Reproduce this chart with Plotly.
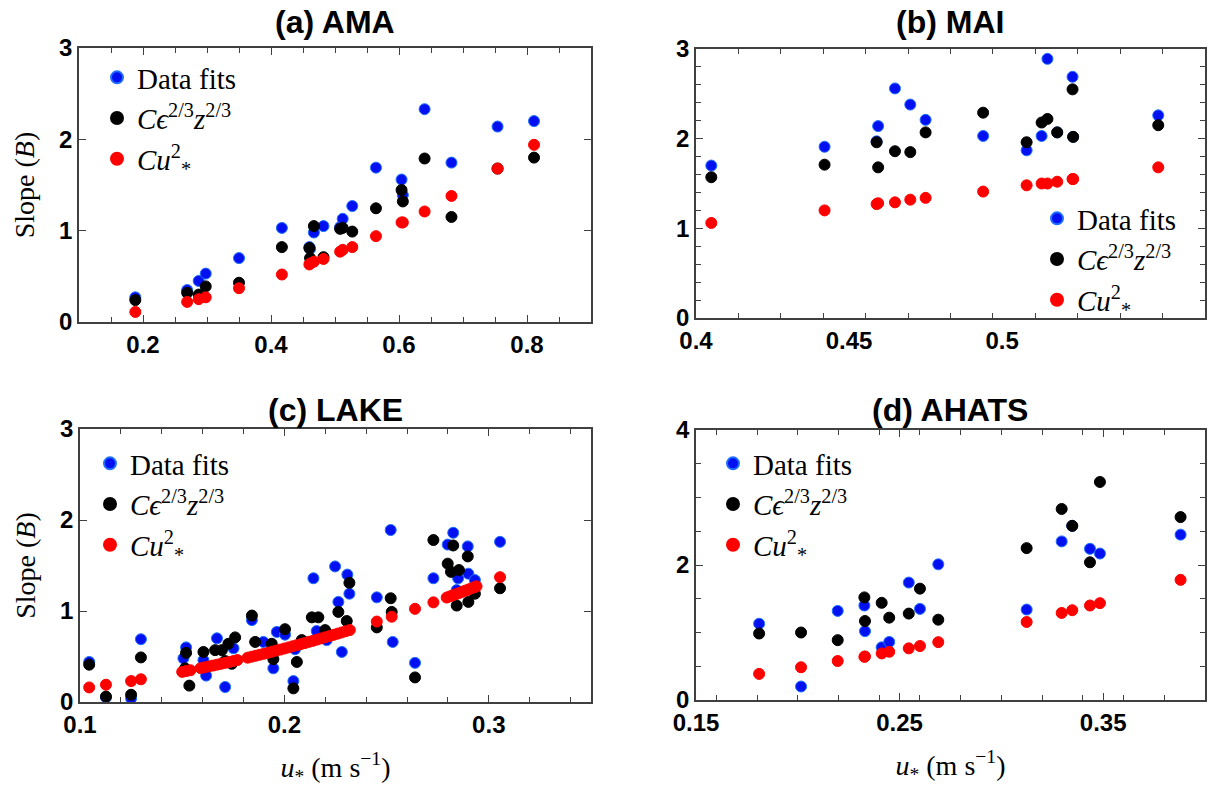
import plotly.graph_objects as go

# ---------------- data ----------------
# (a) AMA
a_u = [0.188, 0.269, 0.287, 0.298, 0.350, 0.417, 0.460, 0.461, 0.467, 0.482,
       0.508, 0.512, 0.527, 0.564, 0.604, 0.606, 0.640, 0.682, 0.754, 0.811]
a_fit = [0.27, 0.35, 0.45, 0.53, 0.70, 1.03, 0.82, 0.80, 0.98, 1.05,
         1.04, 1.13, 1.27, 1.69, 1.56, 1.39, 2.33, 1.745, 2.14, 2.20]
a_eps = [0.24, 0.32, 0.30, 0.39, 0.43, 0.82, 0.81, 0.70, 1.05, 0.71,
         1.02, 1.03, 0.99, 1.245, 1.445, 1.32, 1.79, 1.15, 1.68, 1.80]
a_ustar = [0.11, 0.22, 0.25, 0.27, 0.37, 0.52, 0.63, 0.64, 0.66, 0.69,
           0.77, 0.79, 0.82, 0.94, 1.09, 1.09, 1.21, 1.38, 1.68, 1.94]

# (b) MAI
b_u = [0.405, 0.442, 0.459, 0.4595, 0.465, 0.470, 0.475, 0.4938, 0.508, 0.5129,
       0.5148, 0.518, 0.523, 0.5232, 0.551]
b_fit = [1.70, 1.91, 1.97, 2.14, 2.56, 2.38, 2.21, 2.03, 1.87, 2.03,
         2.89, 2.07, 2.69, 2.02, 2.26]
b_eps = [1.57, 1.71, 1.96, 1.68, 1.86, 1.85, 2.07, 2.29, 1.96, 2.18,
         2.22, 2.07, 2.55, 2.02, 2.15]
b_ustar = [1.06, 1.20, 1.27, 1.28, 1.29, 1.32, 1.34, 1.41, 1.48, 1.50,
           1.50, 1.52, 1.55, 1.55, 1.68]

# (c) LAKE
c_fit_u = [0.1045, 0.1127, 0.1250, 0.1298, 0.1506, 0.1519, 0.1604, 0.1617, 0.1670, 0.1710,
           0.1751, 0.1841, 0.1897, 0.1946, 0.1963, 0.2003, 0.2044, 0.2052, 0.2142, 0.2158,
           0.2207, 0.2248, 0.2264, 0.2281, 0.2308, 0.2318, 0.2452, 0.2520, 0.2530, 0.2639,
           0.2729, 0.2799, 0.2826, 0.2843, 0.2850, 0.2897, 0.2900, 0.2932, 0.3055]
c_fit = [0.44, 0.05, 0.04, 0.69, 0.48, 0.60, 0.46, 0.29, 0.70, 0.165,
         0.59, 0.90, 0.66, 0.37, 0.77, 0.74, 0.23, 0.58, 1.36, 0.78,
         0.68, 1.49, 1.10, 0.55, 1.40, 1.19, 1.15, 1.89, 0.66, 0.43,
         1.36, 1.73, 1.86, 1.23, 1.36, 1.71, 1.41, 1.34, 1.76]
c_eps_u = [0.1045, 0.1127, 0.1250, 0.1298, 0.1514, 0.1519, 0.1535, 0.1604, 0.1661, 0.1694,
           0.1710, 0.1726, 0.1743, 0.1759, 0.1841, 0.1857, 0.1938, 0.1946, 0.2003, 0.2044,
           0.2061, 0.2085, 0.2134, 0.2166, 0.2199, 0.2264, 0.2305, 0.2318, 0.2452, 0.2520,
           0.2525, 0.2639, 0.2729, 0.2799, 0.2815, 0.2826, 0.2843, 0.2854, 0.2897, 0.2900,
           0.2932, 0.3055]
c_eps = [0.41, 0.06, 0.08, 0.49, 0.37, 0.54, 0.18, 0.55, 0.57, 0.57,
         0.45, 0.64, 0.42, 0.71, 0.95, 0.66, 0.64, 0.47, 0.80, 0.15,
         0.44, 0.68, 0.93, 0.93, 0.79, 0.99, 0.89, 1.31, 0.82, 1.14,
         0.99, 0.27, 1.78, 1.52, 1.43, 1.72, 1.06, 1.45, 1.60, 1.10,
         1.19, 1.25]
c_ustar_u = [0.1045, 0.1127, 0.1250, 0.1298, 0.150, 0.152, 0.154, 0.159, 0.161, 0.163,
             0.165, 0.167, 0.169, 0.171, 0.173, 0.175, 0.177, 0.182, 0.184, 0.186,
             0.188, 0.190, 0.192, 0.194, 0.196, 0.198, 0.200, 0.202, 0.204, 0.206,
             0.208, 0.210, 0.212, 0.214, 0.216, 0.218, 0.220, 0.222, 0.224, 0.226,
             0.228, 0.230, 0.232, 0.2452, 0.2525, 0.2639, 0.2729, 0.2794, 0.2810, 0.2825,
             0.2840, 0.2855, 0.2870, 0.2885, 0.2900, 0.2915, 0.2930, 0.2940, 0.3055]
c_ustar = [0.16, 0.19, 0.23, 0.25, 0.331, 0.340, 0.349, 0.372, 0.381, 0.391,
           0.400, 0.410, 0.420, 0.430, 0.440, 0.450, 0.461, 0.487, 0.498, 0.509,
           0.520, 0.531, 0.542, 0.553, 0.565, 0.576, 0.588, 0.600, 0.612, 0.624,
           0.636, 0.648, 0.661, 0.673, 0.686, 0.699, 0.711, 0.724, 0.738, 0.751,
           0.764, 0.778, 0.791, 0.884, 0.937, 1.024, 1.095, 1.148, 1.161, 1.173,
           1.186, 1.198, 1.211, 1.224, 1.236, 1.249, 1.262, 1.271, 1.372]

# (d) AHATS
d_u = [0.181, 0.2016, 0.2196, 0.2327, 0.2330, 0.2412, 0.2449, 0.2545, 0.260, 0.269,
       0.3124, 0.3296, 0.3348, 0.3435, 0.3484, 0.388]
d_fit = [1.13, 0.20, 1.32, 1.40, 1.02, 0.78, 0.86, 1.74, 1.35, 2.01,
         1.34, 2.35, 2.58, 2.24, 2.17, 2.45]
d_eps = [0.985, 1.00, 0.887, 1.52, 1.17, 1.44, 1.22, 1.28, 1.65, 1.19,
         2.25, 2.83, 2.58, 2.04, 3.23, 2.71]
d_ustar = [0.387, 0.485, 0.578, 0.64, 0.645, 0.69, 0.715, 0.765, 0.80, 0.857,
           1.156, 1.29, 1.33, 1.40, 1.435, 1.78]

titles = ["(a) AMA", "(b) MAI", "(c) LAKE", "(d) AHATS"]
series_names = ["Data fits",
                "<i>C\u03f5</i><sup>2/3</sup><i>z</i><sup>2/3</sup>",
                "<i>Cu</i><sup>2</sup><sub>*</sub>"]
colors = ["#0010f0", "#000000", "#ff0000"]
edge = ["#1f6fff", "#000000", "#ff0000"]

W, H = 1217, 791
def px(x):
    return x / W
def py(y):
    return 1 - y / H

# panel pixel boxes (left, right, top, bottom)
boxes = [(79, 591, 48, 322), (696, 1205, 49, 318), (80, 591, 429, 702), (696, 1205, 430, 700)]

fig = go.Figure()

panels = [
    (a_u, a_fit, a_u, a_eps, a_u, a_ustar),
    (b_u, b_fit, b_u, b_eps, b_u, b_ustar),
    (c_fit_u, c_fit, c_eps_u, c_eps, c_ustar_u, c_ustar),
    (d_u, d_fit, d_u, d_eps, d_u, d_ustar),
]
legend_ids = ["legend", "legend2", "legend3", "legend4"]
for i, p in enumerate(panels):
    xa = "x" if i == 0 else f"x{i+1}"
    ya = "y" if i == 0 else f"y{i+1}"
    for k in range(3):
        fig.add_trace(go.Scatter(
            x=p[2 * k], y=p[2 * k + 1], mode="markers", name=series_names[k],
            marker=dict(size=11, color=colors[k], line=dict(width=1, color=edge[k])),
            xaxis=xa, yaxis=ya, legend=legend_ids[i], showlegend=True))

frame = "#404040"
tickfont = dict(family="Liberation Sans", size=24, color="black", weight="bold")
titlefont = dict(family="Liberation Serif", size=28, color="black")

def axis_common():
    return dict(showgrid=False, zeroline=False, showline=True, linecolor=frame, linewidth=1.5,
                mirror="ticks", ticks="inside", tickcolor=frame, ticklen=7, tickwidth=1,
                tickfont=tickfont, automargin=False)

# x axes
xa_cfg = [
    dict(range=[0.1, 0.9], tickvals=[0.2, 0.4, 0.6, 0.8], ticktext=["0.2", "0.4", "0.6", "0.8"],
         minor=dict(ticks="inside", tick0=0, dtick=0.05, ticklen=5, tickcolor=frame)),
    dict(range=[0.4, 0.56627], tickvals=[0.4, 0.45, 0.5], ticktext=["0.4", "0.45", "0.5"], ticklen=0,
         minor=dict(ticks="inside", tick0=0.4, dtick=0.013856, ticklen=5, tickcolor=frame)),
    dict(range=[0.1, 0.35], tickvals=[0.1, 0.2, 0.3], ticktext=["0.1", "0.2", "0.3"],
         minor=dict(ticks="inside", tick0=0, dtick=0.02, ticklen=5, tickcolor=frame)),
    dict(range=[0.15, 0.40], tickvals=[0.15, 0.25, 0.35], ticktext=["0.15", "0.25", "0.35"],
         minor=dict(ticks="inside", tick0=0, dtick=0.02, ticklen=5, tickcolor=frame)),
]
ya_cfg = [
    dict(range=[0, 3], tickvals=[0, 1, 2, 3]),
    dict(range=[0, 3], tickvals=[0, 1, 2, 3],
         minor=dict(ticks="inside", tick0=0, dtick=0.2, ticklen=5, tickcolor=frame)),
    dict(range=[0, 3], tickvals=[0, 1, 2, 3]),
    dict(range=[0, 4], tickvals=[0, 2, 4],
         minor=dict(ticks="inside", tick0=0, dtick=0.5, ticklen=5, tickcolor=frame)),
]

layout = dict(width=W, height=H, margin=dict(l=0, r=0, t=0, b=0, autoexpand=False),
              plot_bgcolor="white", paper_bgcolor="white")
for i, (l, r, t, b) in enumerate(boxes):
    xk = "xaxis" if i == 0 else f"xaxis{i+1}"
    yk = "yaxis" if i == 0 else f"yaxis{i+1}"
    ax = axis_common()
    ax.update(xa_cfg[i])
    ax["domain"] = [px(l), px(r)]
    ax["anchor"] = "y" if i == 0 else f"y{i+1}"
    ay = axis_common()
    ay.update(ya_cfg[i])
    ay["domain"] = [py(b), py(t)]
    ay["anchor"] = "x" if i == 0 else f"x{i+1}"
    if i in (2, 3):
        ax["title"] = dict(text="<i>u</i><sub>*</sub> (m s<sup>\u22121</sup>)", font=titlefont, standoff=21)
    if i in (0, 2):
        ay["title"] = dict(text="Slope (<i>B</i>)", font=titlefont, standoff=16)
    layout[xk] = ax
    layout[yk] = ay

leg_font = dict(family="Liberation Serif", size=29, color="black")
leg_pos = [(97, 52), (1037, 193), (90, 438), (713, 438)]
for i, (lx, ly) in enumerate(leg_pos):
    layout[legend_ids[i]] = dict(x=px(lx), y=py(ly), xanchor="left", yanchor="top",
                                 bgcolor="rgba(0,0,0,0)", font=leg_font, itemsizing="constant")

title_pos = [(335, 22), (950, 22), (335, 410), (950, 410)]
annotations = []
for (tx, ty), tt in zip(title_pos, titles):
    annotations.append(dict(x=px(tx), y=py(ty), xref="paper", yref="paper", text="<b>" + tt + "</b>",
                            showarrow=False, xanchor="center", yanchor="middle",
                            font=dict(family="Liberation Sans", size=32, color="black")))
layout["annotations"] = annotations

fig.update_layout(**layout)
fig.write_html("out.html", config={"displayModeBar": False},
               post_script="document.body.style.margin='0px';")
